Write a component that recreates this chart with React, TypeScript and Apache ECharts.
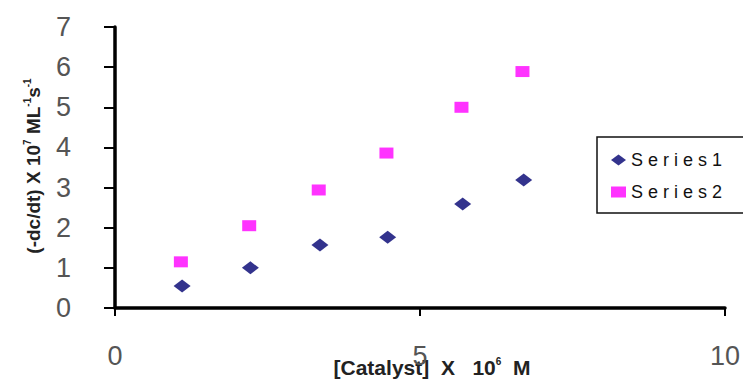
import React, { useEffect, useRef } from "react";
import * as echarts from "echarts";

const series1X = [1.1, 2.22, 3.36, 4.47, 5.7, 6.7];
const series1Y = [0.55, 1.0, 1.57, 1.76, 2.59, 3.19];
const series2X = [1.08, 2.2, 3.34, 4.45, 5.68, 6.68];
const series2Y = [1.15, 2.05, 2.94, 3.86, 5.0, 5.89];
const seriesNames = ["Series1", "Series2"];
const xTicks = [0, 5, 10];
const yTicks = [0, 1, 2, 3, 4, 5, 6, 7];

export default function App() {
  const ref = useRef<HTMLDivElement>(null);
  useEffect(() => {
    if (!ref.current) return;
    const chart = echarts.init(ref.current, null, { renderer: "svg" });
    const font = "'Liberation Sans', Arial, sans-serif";
    chart.setOption({
      animation: false,
      backgroundColor: "#ffffff",
      grid: { left: 115, right: 14, top: 27, bottom: 71 },
      xAxis: {
        type: "value",
        min: xTicks[0],
        max: xTicks[xTicks.length - 1],
        interval: 5,
        splitLine: { show: false },
        axisLine: { show: true, onZero: false, lineStyle: { color: "#000", width: 3.5 } },
        axisTick: { show: true, length: 8, lineStyle: { color: "#000", width: 2 } },
        axisLabel: { margin: 34, fontSize: 27, color: "#555", fontFamily: font },
      },
      yAxis: {
        type: "value",
        min: yTicks[0],
        max: yTicks[yTicks.length - 1],
        interval: 1,
        splitLine: { show: false },
        axisLine: { show: true, onZero: false, lineStyle: { color: "#000", width: 3.5 } },
        axisTick: { show: true, length: 11, lineStyle: { color: "#000", width: 2 } },
        axisLabel: { margin: 44, fontSize: 27, color: "#555", fontFamily: font },
      },
      legend: {
        show: true,
        orient: "vertical",
        left: 606,
        top: 146,
        itemGap: 14,
        itemWidth: 15,
        itemHeight: 11,
        formatter: (n: string) => n.split("").join(" "),
        textStyle: { fontSize: 18, color: "#111", fontFamily: font },
        data: [
          { name: seriesNames[0], icon: "diamond" },
          { name: seriesNames[1], icon: "rect" },
        ],
      },
      graphic: [
        {
          type: "rect",
          shape: { x: 597, y: 137, width: 160, height: 76 },
          style: { fill: "none", stroke: "#111", lineWidth: 1.5 },
          z: 0,
        },
        {
          type: "text",
          x: 432,
          y: 367,
          style: {
            text: "{b|[Catalyst]  X   10}{s|6}{b|  M}",
            align: "center",
            verticalAlign: "middle",
            rich: {
              b: { fontSize: 21, fontWeight: "bold", fill: "#222", fontFamily: font },
              s: { fontSize: 10, fontWeight: "bold", fill: "#222", fontFamily: font, verticalAlign: "top", padding: [0, 0, 11, 0] },
            },
          },
        },
        {
          type: "text",
          x: 33,
          y: 166,
          rotation: Math.PI / 2,
          style: {
            text: "{b|(-dc/dt) X 10}{s|7}{b| ML}{s|-1}{b|s}{s|-1}",
            align: "center",
            verticalAlign: "middle",
            rich: {
              b: { fontSize: 19, fontWeight: "bold", fill: "#222", fontFamily: font },
              s: { fontSize: 10, fontWeight: "bold", fill: "#222", fontFamily: font, verticalAlign: "top", padding: [0, 0, 11, 0] },
            },
          },
        },
      ],
      series: [
        {
          name: seriesNames[0],
          type: "scatter",
          symbol: "diamond",
          symbolSize: [17, 13],
          itemStyle: { color: "#000070" },
          data: series1X.map((x, i) => [x, series1Y[i]]),
        },
        {
          name: seriesNames[1],
          type: "scatter",
          symbol: "rect",
          symbolSize: [14, 11],
          itemStyle: { color: "#ff00ff" },
          data: series2X.map((x, i) => [x, series2Y[i]]),
        },
      ],
    });
    return () => chart.dispose();
  }, []);
  return <div ref={ref} style={{ width: 743, height: 379, position: "absolute", left: 0, top: 0 }} />;
}
